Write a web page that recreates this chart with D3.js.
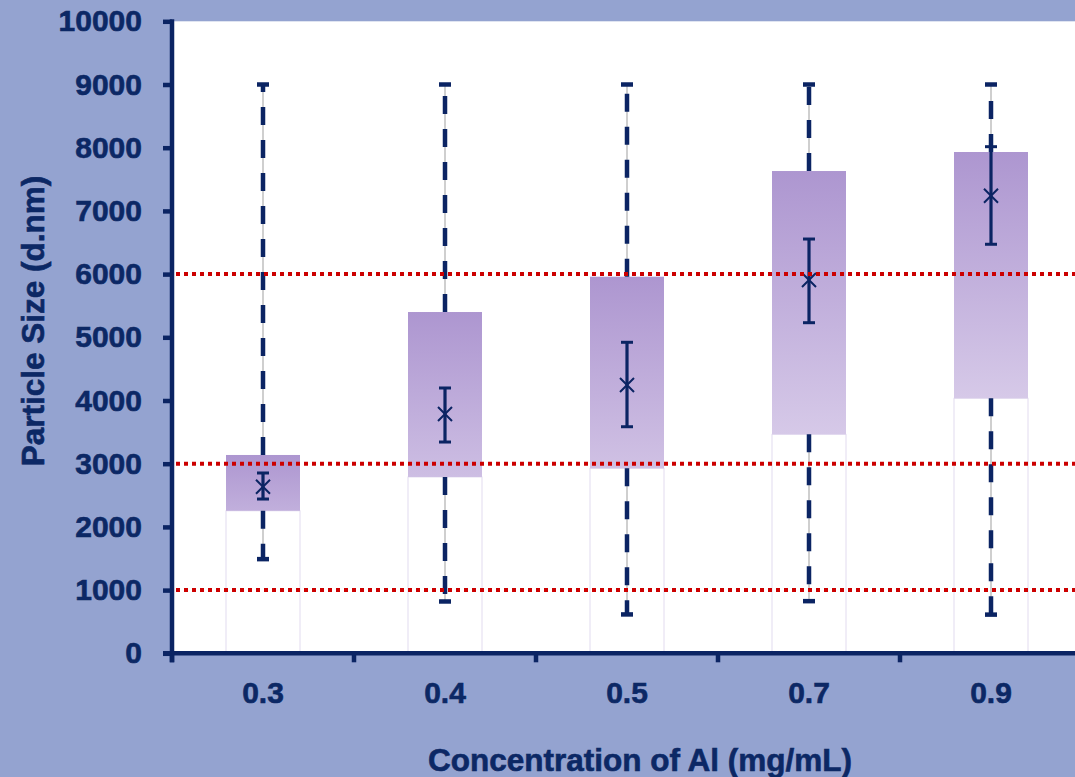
<!DOCTYPE html>
<html><head><meta charset="utf-8">
<script src="https://cdn.jsdelivr.net/npm/d3@7"></script>
<style>
html,body{margin:0;padding:0;background:#94a3d0;}
svg{display:block;font-family:"Liberation Sans",Arial,sans-serif;font-weight:bold;}
</style>
</head><body><svg id="c" width="1075" height="777"></svg>
<script>
const categories = ["0.3", "0.4", "0.5", "0.7", "0.9"];
const boxLower   = [2255, 2790, 2927, 3465, 4035];
const boxUpper   = [3138, 5400, 5959, 7631, 7932];
const whiskerMin = [1490, 820, 615, 825, 612];
const whiskerMax = [9000, 9000, 9000, 9000, 9000];
const meanValues = [2636, 3786, 4245, 5907, 7240];
const meanLow    = [2441, 3343, 3585, 5231, 6472];
const meanHigh   = [2853, 4198, 4921, 6555, 8016];
const refLines   = [1000, 3000, 6000];
const yTicks     = [0, 1000, 2000, 3000, 4000, 5000, 6000, 7000, 8000, 9000, 10000];
const xTitle = "Concentration of Al (mg/mL)";
const yTitle = "Particle Size (d.nm)";

(function () {
const navy = "#0b2463", textCol = "#0c2865";
const svg = d3.select("#c");
const W = 1075, H = 777;
const pLeft = 172, pTop = 21.3, pBottom = 653.3;

svg.append("rect").attr("width", W).attr("height", H).attr("fill", "#94a3d0");

const y = d3.scaleLinear().domain([0, 10000]).range([pBottom, pTop]);
const x = d3.scaleBand().domain(categories).range([pLeft, pLeft + 182 * categories.length]).padding(0);
const boxW = 74;
const cx = c => x(c) + x.bandwidth() / 2;

svg.append("rect").attr("x", pLeft).attr("y", pTop).attr("width", W - pLeft).attr("height", pBottom - pTop).attr("fill", "#fff");

const data = categories.map((c, i) => ({
  i, c, lo: boxLower[i], hi: boxUpper[i], mn: whiskerMin[i], mx: whiskerMax[i],
  mean: meanValues[i], ml: meanLow[i], mh: meanHigh[i]
}));

const defs = svg.append("defs");
const topCol = "#ad96d0", botCol = "#d6c9e8";
data.forEach(d => {
  const h = y(d.lo) - y(d.hi);
  const t = Math.min(1, 0.35 + 0.65 * h / 250);
  const g = defs.append("linearGradient").attr("id", "g" + d.i).attr("x1", 0).attr("y1", 0).attr("x2", 0).attr("y2", 1);
  g.append("stop").attr("offset", 0).attr("stop-color", topCol);
  g.append("stop").attr("offset", 1).attr("stop-color", d3.interpolateRgb(topCol, botCol)(t));
});

svg.selectAll(".base").data(data).join("rect")
  .attr("x", d => cx(d.c) - boxW / 2).attr("y", d => y(d.lo))
  .attr("width", boxW).attr("height", d => y(0) - y(d.lo))
  .attr("fill", "#fff").attr("stroke", "#e2dbef").attr("stroke-width", 1);

svg.selectAll(".box").data(data).join("rect")
  .attr("x", d => cx(d.c) - boxW / 2).attr("y", d => y(d.hi))
  .attr("width", boxW).attr("height", d => y(d.lo) - y(d.hi))
  .attr("fill", d => `url(#g${d.i})`);

const segs = [];
data.forEach(d => {
  segs.push({ c: d.c, from: d.hi, to: d.mx });
  segs.push({ c: d.c, from: d.lo, to: d.mn });
});
svg.selectAll(".wg").data(segs).join("line")
  .attr("x1", d => cx(d.c)).attr("x2", d => cx(d.c))
  .attr("y1", d => y(d.from)).attr("y2", d => y(d.to))
  .attr("stroke", "#b5b5b5").attr("stroke-width", 1.3);
svg.selectAll(".wd").data(segs).join("line")
  .attr("x1", d => cx(d.c)).attr("x2", d => cx(d.c))
  .attr("y1", d => y(d.from)).attr("y2", d => y(d.to))
  .attr("stroke", navy).attr("stroke-width", 4.5).attr("stroke-dasharray", "18,15");
svg.selectAll(".wc").data(segs).join("line")
  .attr("x1", d => cx(d.c) - 6).attr("x2", d => cx(d.c) + 6)
  .attr("y1", d => y(d.to)).attr("y2", d => y(d.to))
  .attr("stroke", navy).attr("stroke-width", 4.5);

svg.selectAll(".me").data(data).join("line")
  .attr("x1", d => cx(d.c)).attr("x2", d => cx(d.c))
  .attr("y1", d => y(d.ml)).attr("y2", d => y(d.mh))
  .attr("stroke", navy).attr("stroke-width", 3.2);
const caps = [];
data.forEach(d => { caps.push({ c: d.c, v: d.ml }); caps.push({ c: d.c, v: d.mh }); });
svg.selectAll(".mc").data(caps).join("line")
  .attr("x1", d => cx(d.c) - 6).attr("x2", d => cx(d.c) + 6)
  .attr("y1", d => y(d.v)).attr("y2", d => y(d.v))
  .attr("stroke", navy).attr("stroke-width", 3);
svg.selectAll(".mx").data(data).join("path")
  .attr("d", d => { const X = cx(d.c), Y = y(d.mean), s = 7;
    return `M${X - s},${Y - s}L${X + s},${Y + s}M${X - s},${Y + s}L${X + s},${Y - s}`; })
  .attr("stroke", navy).attr("stroke-width", 2).attr("fill", "none");

svg.selectAll(".ref").data(refLines).join("line")
  .attr("x1", pLeft + 4).attr("x2", W).attr("y1", d => y(d)).attr("y2", d => y(d))
  .attr("stroke", "#cc0000").attr("stroke-width", 4).attr("stroke-dasharray", "4,4");

const styleText = sel => sel.attr("fill", textCol).attr("font-size", 30).attr("font-weight", "bold")
  .attr("font-family", "'Liberation Sans', Arial, sans-serif")
  .attr("stroke", textCol).attr("stroke-width", 0.6);

const yAxis = svg.append("g").attr("transform", `translate(${pLeft},0)`)
  .call(d3.axisLeft(y).tickValues(yTicks).tickSize(9).tickPadding(21).tickFormat(d3.format("d")));
yAxis.select(".domain").remove();
yAxis.selectAll(".tick line").attr("stroke", navy).attr("stroke-width", 4.5);
styleText(yAxis.selectAll(".tick text"));

const xAxis = svg.append("g").attr("transform", `translate(0,${pBottom})`)
  .call(d3.axisBottom(x).tickSize(0).tickPadding(28));
xAxis.select(".domain").remove();
styleText(xAxis.selectAll(".tick text"));
const bounds = categories.map(c => x(c));
svg.selectAll(".xt").data(bounds).join("line")
  .attr("x1", d => d).attr("x2", d => d).attr("y1", pBottom).attr("y2", pBottom + 9)
  .attr("stroke", navy).attr("stroke-width", 4.5);

svg.append("line").attr("x1", pLeft).attr("x2", pLeft).attr("y1", pTop - 2).attr("y2", pBottom + 9)
  .attr("stroke", navy).attr("stroke-width", 4.5);
svg.append("line").attr("x1", pLeft - 9).attr("x2", W).attr("y1", pBottom).attr("y2", pBottom)
  .attr("stroke", navy).attr("stroke-width", 4.5);

svg.append("text").attr("x", 640).attr("y", 771).attr("text-anchor", "middle")
  .attr("font-size", 31.5).attr("fill", textCol).attr("stroke", textCol).attr("stroke-width", 0.6).text(xTitle);
svg.append("text").attr("transform", "translate(44,321) rotate(-90)").attr("text-anchor", "middle")
  .attr("font-size", 31.5).attr("fill", textCol).attr("stroke", textCol).attr("stroke-width", 0.6).text(yTitle);
})();
</script></body></html>
